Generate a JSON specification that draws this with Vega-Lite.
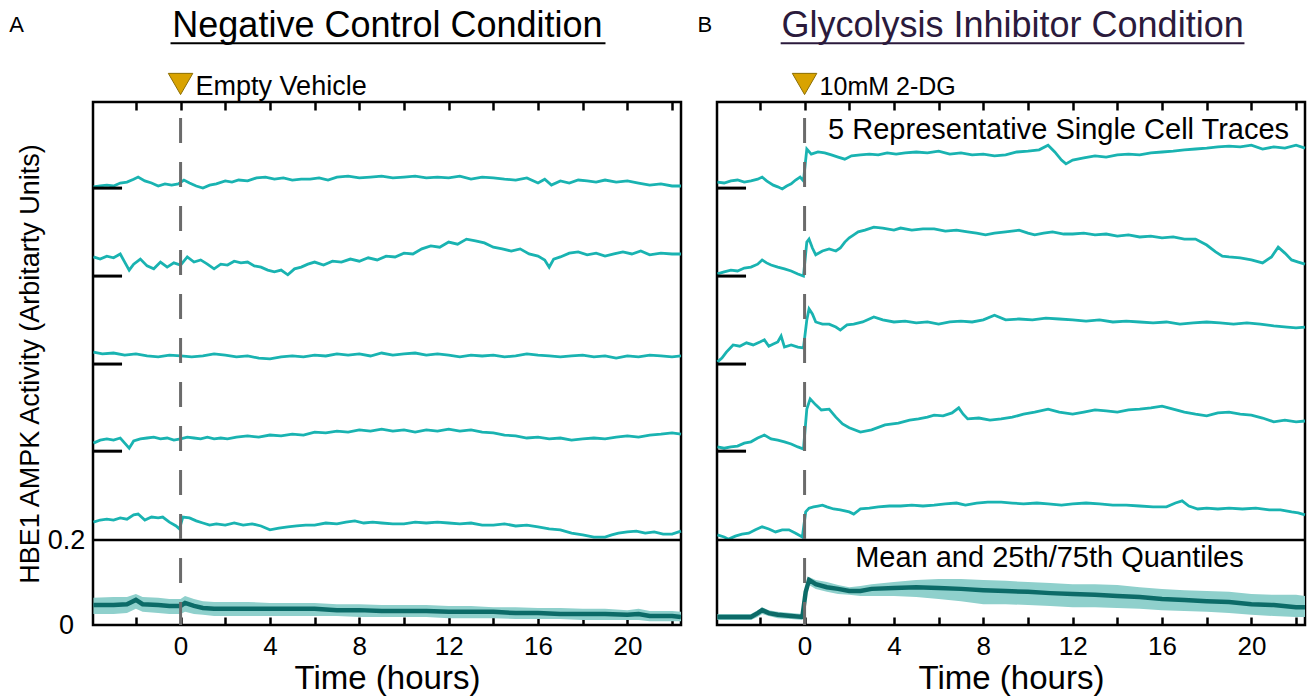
{
"$schema": "https://vega.github.io/schema/vega-lite/v6.json",
"padding": {"left": 8, "top": 6, "right": 0, "bottom": 0},
"config": {
  "font": "Liberation Sans",
  "view": {"stroke": "black", "strokeWidth": 2.5},
  "axis": {"labelFont": "Liberation Sans", "titleFont": "Liberation Sans", "labelColor": "black", "titleColor": "black", "tickColor": "black", "titleFontWeight": "normal", "grid": false, "zindex": 1},
  "text": {"color": "black", "font": "Liberation Sans"}
},
"datasets": {
  "bars": [{"b":0.409},{"b":0.614},{"b":0.821},{"b":1.028}],
  "A_mn": [
    {"t":-3.9,"m":0.047,"q3":0.064,"q1":0.026},{"t":-3.0,"m":0.047,"q3":0.066,"q1":0.026},{"t":-2.4,"m":0.049,"q3":0.066,"q1":0.028},{"t":-2.0,"m":0.059,"q3":0.073,"q1":0.038},{"t":-1.7,"m":0.049,"q3":0.066,"q1":0.031},{"t":-1.0,"m":0.047,"q3":0.064,"q1":0.028},{"t":-0.5,"m":0.045,"q3":0.061,"q1":0.026},{"t":0.0,"m":0.045,"q3":0.061,"q1":0.026},{"t":0.2,"m":0.052,"q3":0.068,"q1":0.031},{"t":0.6,"m":0.045,"q3":0.061,"q1":0.026},{"t":1.0,"m":0.040,"q3":0.056,"q1":0.024},{"t":1.5,"m":0.038,"q3":0.054,"q1":0.021},{"t":2.0,"m":0.038,"q3":0.054,"q1":0.021},{"t":3.0,"m":0.038,"q3":0.054,"q1":0.021},{"t":4.0,"m":0.038,"q3":0.052,"q1":0.021},{"t":5.0,"m":0.038,"q3":0.052,"q1":0.021},{"t":6.0,"m":0.038,"q3":0.052,"q1":0.021},{"t":7.0,"m":0.035,"q3":0.049,"q1":0.021},{"t":8.0,"m":0.035,"q3":0.049,"q1":0.019},{"t":9.0,"m":0.033,"q3":0.047,"q1":0.019},{"t":10.0,"m":0.033,"q3":0.047,"q1":0.019},{"t":11.0,"m":0.033,"q3":0.047,"q1":0.019},{"t":12.0,"m":0.031,"q3":0.045,"q1":0.016},{"t":13.0,"m":0.031,"q3":0.045,"q1":0.016},{"t":14.0,"m":0.031,"q3":0.042,"q1":0.016},{"t":15.0,"m":0.028,"q3":0.042,"q1":0.014},{"t":16.0,"m":0.028,"q3":0.040,"q1":0.014},{"t":17.0,"m":0.026,"q3":0.040,"q1":0.014},{"t":18.0,"m":0.026,"q3":0.038,"q1":0.012},{"t":19.0,"m":0.026,"q3":0.038,"q1":0.012},{"t":20.0,"m":0.024,"q3":0.035,"q1":0.012},{"t":20.5,"m":0.026,"q3":0.038,"q1":0.012},{"t":21.0,"m":0.021,"q3":0.033,"q1":0.009},{"t":22.0,"m":0.021,"q3":0.033,"q1":0.009},{"t":22.4,"m":0.019,"q3":0.031,"q1":0.009}
  ],
  "B_mn": [
    {"t":-3.9,"m":0.019,"q3":0.026,"q1":0.012},{"t":-3.0,"m":0.019,"q3":0.026,"q1":0.012},{"t":-2.4,"m":0.019,"q3":0.026,"q1":0.012},{"t":-2.1,"m":0.028,"q3":0.035,"q1":0.019},{"t":-1.9,"m":0.035,"q3":0.042,"q1":0.026},{"t":-1.6,"m":0.028,"q3":0.035,"q1":0.021},{"t":-1.2,"m":0.024,"q3":0.031,"q1":0.016},{"t":-0.6,"m":0.021,"q3":0.028,"q1":0.014},{"t":-0.1,"m":0.019,"q3":0.026,"q1":0.012},{"t":0.05,"m":0.078,"q3":0.087,"q1":0.064},{"t":0.2,"m":0.106,"q3":0.113,"q1":0.094},{"t":0.5,"m":0.096,"q3":0.106,"q1":0.085},{"t":1.0,"m":0.089,"q3":0.101,"q1":0.078},{"t":1.5,"m":0.085,"q3":0.094,"q1":0.073},{"t":2.0,"m":0.080,"q3":0.089,"q1":0.071},{"t":2.5,"m":0.080,"q3":0.092,"q1":0.068},{"t":3.0,"m":0.085,"q3":0.096,"q1":0.068},{"t":4.0,"m":0.087,"q3":0.101,"q1":0.068},{"t":5.0,"m":0.089,"q3":0.106,"q1":0.066},{"t":6.0,"m":0.087,"q3":0.108,"q1":0.061},{"t":7.0,"m":0.085,"q3":0.108,"q1":0.056},{"t":8.0,"m":0.082,"q3":0.106,"q1":0.049},{"t":9.0,"m":0.080,"q3":0.104,"q1":0.049},{"t":10.0,"m":0.078,"q3":0.101,"q1":0.047},{"t":11.0,"m":0.075,"q3":0.099,"q1":0.045},{"t":12.0,"m":0.073,"q3":0.096,"q1":0.042},{"t":13.0,"m":0.071,"q3":0.096,"q1":0.042},{"t":14.0,"m":0.068,"q3":0.094,"q1":0.040},{"t":15.0,"m":0.066,"q3":0.089,"q1":0.038},{"t":16.0,"m":0.061,"q3":0.085,"q1":0.035},{"t":17.0,"m":0.059,"q3":0.082,"q1":0.033},{"t":18.0,"m":0.056,"q3":0.080,"q1":0.031},{"t":19.0,"m":0.054,"q3":0.078,"q1":0.028},{"t":20.0,"m":0.049,"q3":0.073,"q1":0.024},{"t":21.0,"m":0.047,"q3":0.071,"q1":0.021},{"t":22.0,"m":0.042,"q3":0.071,"q1":0.019},{"t":22.4,"m":0.042,"q3":0.068,"q1":0.019}
  ],
  "A_tr": [
    {"k":5,"t":-3.9,"v":1.031},{"k":5,"t":-3.6,"v":1.033},{"k":5,"t":-3.3,"v":1.035},{"k":5,"t":-3.0,"v":1.033},{"k":5,"t":-2.7,"v":1.040},{"k":5,"t":-2.4,"v":1.042},{"k":5,"t":-2.1,"v":1.049},{"k":5,"t":-1.9,"v":1.054},{"k":5,"t":-1.6,"v":1.045},{"k":5,"t":-1.3,"v":1.040},{"k":5,"t":-1.0,"v":1.033},{"k":5,"t":-0.7,"v":1.038},{"k":5,"t":-0.4,"v":1.035},{"k":5,"t":-0.1,"v":1.038},{"k":5,"t":0.15,"v":1.047},{"k":5,"t":0.4,"v":1.040},{"k":5,"t":0.7,"v":1.033},{"k":5,"t":1.0,"v":1.028},{"k":5,"t":1.3,"v":1.035},{"k":5,"t":1.6,"v":1.038},{"k":5,"t":2.0,"v":1.045},{"k":5,"t":2.3,"v":1.042},{"k":5,"t":2.6,"v":1.047},{"k":5,"t":3.0,"v":1.045},{"k":5,"t":3.4,"v":1.052},{"k":5,"t":3.8,"v":1.054},{"k":5,"t":4.2,"v":1.049},{"k":5,"t":4.6,"v":1.052},{"k":5,"t":5.0,"v":1.047},{"k":5,"t":5.4,"v":1.049},{"k":5,"t":5.8,"v":1.049},{"k":5,"t":6.2,"v":1.052},{"k":5,"t":6.6,"v":1.047},{"k":5,"t":7.0,"v":1.054},{"k":5,"t":7.5,"v":1.056},{"k":5,"t":8.0,"v":1.052},{"k":5,"t":8.5,"v":1.054},{"k":5,"t":9.0,"v":1.056},{"k":5,"t":9.5,"v":1.052},{"k":5,"t":10.0,"v":1.054},{"k":5,"t":10.5,"v":1.056},{"k":5,"t":11.0,"v":1.052},{"k":5,"t":11.5,"v":1.054},{"k":5,"t":12.0,"v":1.052},{"k":5,"t":12.5,"v":1.056},{"k":5,"t":13.0,"v":1.049},{"k":5,"t":13.5,"v":1.054},{"k":5,"t":14.0,"v":1.052},{"k":5,"t":14.5,"v":1.049},{"k":5,"t":15.0,"v":1.047},{"k":5,"t":15.5,"v":1.052},{"k":5,"t":16.0,"v":1.040},{"k":5,"t":16.3,"v":1.049},{"k":5,"t":16.6,"v":1.035},{"k":5,"t":17.0,"v":1.045},{"k":5,"t":17.4,"v":1.040},{"k":5,"t":17.8,"v":1.047},{"k":5,"t":18.2,"v":1.045},{"k":5,"t":18.6,"v":1.042},{"k":5,"t":19.0,"v":1.047},{"k":5,"t":19.5,"v":1.042},{"k":5,"t":20.0,"v":1.045},{"k":5,"t":20.5,"v":1.040},{"k":5,"t":21.0,"v":1.035},{"k":5,"t":21.5,"v":1.038},{"k":5,"t":22.0,"v":1.033},{"k":5,"t":22.4,"v":1.033},
    {"k":4,"t":-3.9,"v":0.866},{"k":4,"t":-3.6,"v":0.861},{"k":4,"t":-3.3,"v":0.868},{"k":4,"t":-3.0,"v":0.864},{"k":4,"t":-2.7,"v":0.873},{"k":4,"t":-2.5,"v":0.854},{"k":4,"t":-2.3,"v":0.835},{"k":4,"t":-2.1,"v":0.849},{"k":4,"t":-1.8,"v":0.861},{"k":4,"t":-1.5,"v":0.845},{"k":4,"t":-1.2,"v":0.838},{"k":4,"t":-0.9,"v":0.854},{"k":4,"t":-0.6,"v":0.842},{"k":4,"t":-0.3,"v":0.852},{"k":4,"t":0.0,"v":0.847},{"k":4,"t":0.3,"v":0.866},{"k":4,"t":0.6,"v":0.854},{"k":4,"t":0.9,"v":0.859},{"k":4,"t":1.2,"v":0.849},{"k":4,"t":1.5,"v":0.838},{"k":4,"t":1.8,"v":0.849},{"k":4,"t":2.1,"v":0.847},{"k":4,"t":2.4,"v":0.856},{"k":4,"t":2.7,"v":0.852},{"k":4,"t":3.0,"v":0.854},{"k":4,"t":3.3,"v":0.845},{"k":4,"t":3.6,"v":0.842},{"k":4,"t":3.9,"v":0.835},{"k":4,"t":4.2,"v":0.831},{"k":4,"t":4.5,"v":0.835},{"k":4,"t":4.8,"v":0.824},{"k":4,"t":5.1,"v":0.838},{"k":4,"t":5.4,"v":0.842},{"k":4,"t":5.7,"v":0.849},{"k":4,"t":6.0,"v":0.854},{"k":4,"t":6.4,"v":0.847},{"k":4,"t":6.8,"v":0.856},{"k":4,"t":7.2,"v":0.854},{"k":4,"t":7.6,"v":0.861},{"k":4,"t":8.0,"v":0.856},{"k":4,"t":8.4,"v":0.864},{"k":4,"t":8.8,"v":0.859},{"k":4,"t":9.2,"v":0.868},{"k":4,"t":9.6,"v":0.866},{"k":4,"t":10.0,"v":0.875},{"k":4,"t":10.4,"v":0.873},{"k":4,"t":10.8,"v":0.885},{"k":4,"t":11.2,"v":0.892},{"k":4,"t":11.6,"v":0.889},{"k":4,"t":12.0,"v":0.901},{"k":4,"t":12.4,"v":0.896},{"k":4,"t":12.8,"v":0.908},{"k":4,"t":13.2,"v":0.904},{"k":4,"t":13.6,"v":0.899},{"k":4,"t":14.0,"v":0.889},{"k":4,"t":14.4,"v":0.885},{"k":4,"t":14.8,"v":0.880},{"k":4,"t":15.2,"v":0.885},{"k":4,"t":15.6,"v":0.873},{"k":4,"t":16.0,"v":0.868},{"k":4,"t":16.3,"v":0.859},{"k":4,"t":16.5,"v":0.842},{"k":4,"t":16.7,"v":0.861},{"k":4,"t":17.0,"v":0.866},{"k":4,"t":17.4,"v":0.875},{"k":4,"t":17.8,"v":0.878},{"k":4,"t":18.2,"v":0.871},{"k":4,"t":18.6,"v":0.875},{"k":4,"t":19.0,"v":0.868},{"k":4,"t":19.4,"v":0.873},{"k":4,"t":19.8,"v":0.878},{"k":4,"t":20.2,"v":0.873},{"k":4,"t":20.6,"v":0.880},{"k":4,"t":21.0,"v":0.871},{"k":4,"t":21.5,"v":0.875},{"k":4,"t":22.0,"v":0.873},{"k":4,"t":22.4,"v":0.873},
    {"k":3,"t":-3.9,"v":0.642},{"k":3,"t":-3.5,"v":0.638},{"k":3,"t":-3.0,"v":0.640},{"k":3,"t":-2.5,"v":0.635},{"k":3,"t":-2.0,"v":0.638},{"k":3,"t":-1.5,"v":0.633},{"k":3,"t":-1.0,"v":0.631},{"k":3,"t":-0.5,"v":0.635},{"k":3,"t":0.0,"v":0.633},{"k":3,"t":0.5,"v":0.631},{"k":3,"t":1.0,"v":0.633},{"k":3,"t":1.5,"v":0.638},{"k":3,"t":2.0,"v":0.635},{"k":3,"t":2.5,"v":0.631},{"k":3,"t":3.0,"v":0.633},{"k":3,"t":3.5,"v":0.628},{"k":3,"t":4.0,"v":0.626},{"k":3,"t":4.5,"v":0.631},{"k":3,"t":5.0,"v":0.633},{"k":3,"t":5.5,"v":0.631},{"k":3,"t":6.0,"v":0.635},{"k":3,"t":6.5,"v":0.633},{"k":3,"t":7.0,"v":0.638},{"k":3,"t":7.5,"v":0.635},{"k":3,"t":8.0,"v":0.638},{"k":3,"t":8.5,"v":0.633},{"k":3,"t":9.0,"v":0.640},{"k":3,"t":9.5,"v":0.635},{"k":3,"t":10.0,"v":0.638},{"k":3,"t":10.5,"v":0.640},{"k":3,"t":11.0,"v":0.635},{"k":3,"t":11.5,"v":0.638},{"k":3,"t":12.0,"v":0.635},{"k":3,"t":12.5,"v":0.631},{"k":3,"t":13.0,"v":0.635},{"k":3,"t":13.5,"v":0.633},{"k":3,"t":14.0,"v":0.635},{"k":3,"t":14.5,"v":0.631},{"k":3,"t":15.0,"v":0.633},{"k":3,"t":15.5,"v":0.638},{"k":3,"t":16.0,"v":0.635},{"k":3,"t":16.5,"v":0.633},{"k":3,"t":17.0,"v":0.631},{"k":3,"t":17.5,"v":0.633},{"k":3,"t":18.0,"v":0.635},{"k":3,"t":18.5,"v":0.631},{"k":3,"t":19.0,"v":0.633},{"k":3,"t":19.5,"v":0.628},{"k":3,"t":20.0,"v":0.633},{"k":3,"t":20.5,"v":0.631},{"k":3,"t":21.0,"v":0.635},{"k":3,"t":21.5,"v":0.633},{"k":3,"t":22.0,"v":0.631},{"k":3,"t":22.4,"v":0.633},
    {"k":2,"t":-3.9,"v":0.428},{"k":2,"t":-3.6,"v":0.435},{"k":2,"t":-3.3,"v":0.438},{"k":2,"t":-3.0,"v":0.435},{"k":2,"t":-2.7,"v":0.440},{"k":2,"t":-2.5,"v":0.428},{"k":2,"t":-2.3,"v":0.416},{"k":2,"t":-2.1,"v":0.433},{"k":2,"t":-1.8,"v":0.438},{"k":2,"t":-1.5,"v":0.440},{"k":2,"t":-1.2,"v":0.442},{"k":2,"t":-0.9,"v":0.438},{"k":2,"t":-0.6,"v":0.440},{"k":2,"t":-0.3,"v":0.435},{"k":2,"t":0.0,"v":0.438},{"k":2,"t":0.3,"v":0.442},{"k":2,"t":0.6,"v":0.440},{"k":2,"t":0.9,"v":0.438},{"k":2,"t":1.2,"v":0.442},{"k":2,"t":1.5,"v":0.438},{"k":2,"t":1.8,"v":0.440},{"k":2,"t":2.1,"v":0.438},{"k":2,"t":2.5,"v":0.442},{"k":2,"t":3.0,"v":0.445},{"k":2,"t":3.5,"v":0.442},{"k":2,"t":4.0,"v":0.447},{"k":2,"t":4.5,"v":0.445},{"k":2,"t":5.0,"v":0.449},{"k":2,"t":5.5,"v":0.447},{"k":2,"t":6.0,"v":0.454},{"k":2,"t":6.5,"v":0.452},{"k":2,"t":7.0,"v":0.456},{"k":2,"t":7.5,"v":0.454},{"k":2,"t":8.0,"v":0.459},{"k":2,"t":8.5,"v":0.456},{"k":2,"t":9.0,"v":0.461},{"k":2,"t":9.5,"v":0.456},{"k":2,"t":10.0,"v":0.459},{"k":2,"t":10.5,"v":0.454},{"k":2,"t":11.0,"v":0.459},{"k":2,"t":11.5,"v":0.456},{"k":2,"t":12.0,"v":0.461},{"k":2,"t":12.5,"v":0.456},{"k":2,"t":13.0,"v":0.459},{"k":2,"t":13.5,"v":0.454},{"k":2,"t":14.0,"v":0.452},{"k":2,"t":14.5,"v":0.447},{"k":2,"t":15.0,"v":0.445},{"k":2,"t":15.5,"v":0.440},{"k":2,"t":16.0,"v":0.442},{"k":2,"t":16.5,"v":0.438},{"k":2,"t":17.0,"v":0.440},{"k":2,"t":17.5,"v":0.435},{"k":2,"t":18.0,"v":0.438},{"k":2,"t":18.5,"v":0.440},{"k":2,"t":19.0,"v":0.438},{"k":2,"t":19.5,"v":0.442},{"k":2,"t":20.0,"v":0.445},{"k":2,"t":20.5,"v":0.442},{"k":2,"t":21.0,"v":0.447},{"k":2,"t":21.5,"v":0.449},{"k":2,"t":22.0,"v":0.452},{"k":2,"t":22.4,"v":0.449},
    {"k":1,"t":-3.9,"v":0.242},{"k":1,"t":-3.6,"v":0.247},{"k":1,"t":-3.3,"v":0.249},{"k":1,"t":-3.0,"v":0.247},{"k":1,"t":-2.7,"v":0.252},{"k":1,"t":-2.4,"v":0.249},{"k":1,"t":-2.1,"v":0.259},{"k":1,"t":-1.9,"v":0.261},{"k":1,"t":-1.6,"v":0.247},{"k":1,"t":-1.3,"v":0.254},{"k":1,"t":-1.0,"v":0.252},{"k":1,"t":-0.8,"v":0.254},{"k":1,"t":-0.5,"v":0.242},{"k":1,"t":-0.2,"v":0.233},{"k":1,"t":-0.05,"v":0.226},{"k":1,"t":0.1,"v":0.254},{"k":1,"t":0.4,"v":0.252},{"k":1,"t":0.7,"v":0.245},{"k":1,"t":1.0,"v":0.240},{"k":1,"t":1.3,"v":0.235},{"k":1,"t":1.6,"v":0.238},{"k":1,"t":2.0,"v":0.235},{"k":1,"t":2.4,"v":0.240},{"k":1,"t":2.8,"v":0.235},{"k":1,"t":3.2,"v":0.238},{"k":1,"t":3.6,"v":0.233},{"k":1,"t":4.0,"v":0.224},{"k":1,"t":4.4,"v":0.228},{"k":1,"t":4.8,"v":0.231},{"k":1,"t":5.2,"v":0.233},{"k":1,"t":5.6,"v":0.235},{"k":1,"t":6.0,"v":0.235},{"k":1,"t":6.5,"v":0.240},{"k":1,"t":7.0,"v":0.238},{"k":1,"t":7.4,"v":0.242},{"k":1,"t":7.8,"v":0.245},{"k":1,"t":8.2,"v":0.240},{"k":1,"t":8.6,"v":0.242},{"k":1,"t":9.0,"v":0.240},{"k":1,"t":9.5,"v":0.238},{"k":1,"t":10.0,"v":0.238},{"k":1,"t":10.5,"v":0.242},{"k":1,"t":11.0,"v":0.240},{"k":1,"t":11.5,"v":0.242},{"k":1,"t":12.0,"v":0.240},{"k":1,"t":12.5,"v":0.238},{"k":1,"t":13.0,"v":0.240},{"k":1,"t":13.5,"v":0.235},{"k":1,"t":14.0,"v":0.235},{"k":1,"t":14.5,"v":0.238},{"k":1,"t":15.0,"v":0.233},{"k":1,"t":15.5,"v":0.235},{"k":1,"t":16.0,"v":0.231},{"k":1,"t":16.5,"v":0.226},{"k":1,"t":17.0,"v":0.224},{"k":1,"t":17.5,"v":0.216},{"k":1,"t":18.0,"v":0.212},{"k":1,"t":18.5,"v":0.207},{"k":1,"t":19.0,"v":0.207},{"k":1,"t":19.3,"v":0.212},{"k":1,"t":19.6,"v":0.216},{"k":1,"t":20.0,"v":0.219},{"k":1,"t":20.4,"v":0.221},{"k":1,"t":20.8,"v":0.216},{"k":1,"t":21.2,"v":0.219},{"k":1,"t":21.6,"v":0.214},{"k":1,"t":22.0,"v":0.214},{"k":1,"t":22.4,"v":0.221}
  ],
  "B_tr": [
    {"k":5,"t":-3.9,"v":1.042},{"k":5,"t":-3.6,"v":1.040},{"k":5,"t":-3.3,"v":1.045},{"k":5,"t":-3.0,"v":1.047},{"k":5,"t":-2.7,"v":1.042},{"k":5,"t":-2.4,"v":1.045},{"k":5,"t":-2.1,"v":1.049},{"k":5,"t":-1.9,"v":1.054},{"k":5,"t":-1.7,"v":1.045},{"k":5,"t":-1.4,"v":1.035},{"k":5,"t":-1.2,"v":1.031},{"k":5,"t":-1.0,"v":1.026},{"k":5,"t":-0.8,"v":1.033},{"k":5,"t":-0.6,"v":1.038},{"k":5,"t":-0.4,"v":1.047},{"k":5,"t":-0.2,"v":1.054},{"k":5,"t":-0.05,"v":1.045},{"k":5,"t":0.1,"v":1.120},{"k":5,"t":0.3,"v":1.108},{"k":5,"t":0.6,"v":1.113},{"k":5,"t":0.9,"v":1.111},{"k":5,"t":1.2,"v":1.106},{"k":5,"t":1.5,"v":1.101},{"k":5,"t":1.8,"v":1.096},{"k":5,"t":2.1,"v":1.104},{"k":5,"t":2.5,"v":1.106},{"k":5,"t":2.9,"v":1.108},{"k":5,"t":3.3,"v":1.106},{"k":5,"t":3.7,"v":1.111},{"k":5,"t":4.1,"v":1.108},{"k":5,"t":4.5,"v":1.111},{"k":5,"t":5.0,"v":1.113},{"k":5,"t":5.5,"v":1.111},{"k":5,"t":6.0,"v":1.115},{"k":5,"t":6.5,"v":1.108},{"k":5,"t":7.0,"v":1.111},{"k":5,"t":7.5,"v":1.106},{"k":5,"t":8.0,"v":1.108},{"k":5,"t":8.5,"v":1.104},{"k":5,"t":9.0,"v":1.106},{"k":5,"t":9.5,"v":1.113},{"k":5,"t":10.0,"v":1.115},{"k":5,"t":10.5,"v":1.118},{"k":5,"t":10.9,"v":1.129},{"k":5,"t":11.2,"v":1.113},{"k":5,"t":11.5,"v":1.094},{"k":5,"t":11.7,"v":1.085},{"k":5,"t":12.0,"v":1.094},{"k":5,"t":12.5,"v":1.099},{"k":5,"t":13.0,"v":1.104},{"k":5,"t":13.5,"v":1.101},{"k":5,"t":14.0,"v":1.106},{"k":5,"t":14.5,"v":1.108},{"k":5,"t":15.0,"v":1.106},{"k":5,"t":15.5,"v":1.111},{"k":5,"t":16.0,"v":1.113},{"k":5,"t":16.5,"v":1.115},{"k":5,"t":17.0,"v":1.118},{"k":5,"t":17.5,"v":1.120},{"k":5,"t":18.0,"v":1.122},{"k":5,"t":18.5,"v":1.125},{"k":5,"t":19.0,"v":1.127},{"k":5,"t":19.5,"v":1.125},{"k":5,"t":20.0,"v":1.129},{"k":5,"t":20.5,"v":1.120},{"k":5,"t":21.0,"v":1.125},{"k":5,"t":21.5,"v":1.122},{"k":5,"t":22.0,"v":1.129},{"k":5,"t":22.4,"v":1.122},
    {"k":4,"t":-3.9,"v":0.826},{"k":4,"t":-3.6,"v":0.831},{"k":4,"t":-3.3,"v":0.835},{"k":4,"t":-3.0,"v":0.833},{"k":4,"t":-2.7,"v":0.840},{"k":4,"t":-2.4,"v":0.842},{"k":4,"t":-2.1,"v":0.849},{"k":4,"t":-1.9,"v":0.859},{"k":4,"t":-1.7,"v":0.852},{"k":4,"t":-1.5,"v":0.847},{"k":4,"t":-1.2,"v":0.842},{"k":4,"t":-0.9,"v":0.838},{"k":4,"t":-0.6,"v":0.833},{"k":4,"t":-0.3,"v":0.826},{"k":4,"t":-0.05,"v":0.821},{"k":4,"t":0.1,"v":0.901},{"k":4,"t":0.2,"v":0.908},{"k":4,"t":0.35,"v":0.887},{"k":4,"t":0.5,"v":0.871},{"k":4,"t":0.8,"v":0.880},{"k":4,"t":1.1,"v":0.885},{"k":4,"t":1.4,"v":0.880},{"k":4,"t":1.6,"v":0.887},{"k":4,"t":1.8,"v":0.901},{"k":4,"t":2.0,"v":0.911},{"k":4,"t":2.2,"v":0.918},{"k":4,"t":2.4,"v":0.925},{"k":4,"t":2.7,"v":0.929},{"k":4,"t":3.1,"v":0.936},{"k":4,"t":3.5,"v":0.934},{"k":4,"t":4.0,"v":0.929},{"k":4,"t":4.3,"v":0.934},{"k":4,"t":4.8,"v":0.929},{"k":4,"t":5.3,"v":0.932},{"k":4,"t":5.8,"v":0.932},{"k":4,"t":6.3,"v":0.927},{"k":4,"t":6.8,"v":0.929},{"k":4,"t":7.3,"v":0.925},{"k":4,"t":7.7,"v":0.922},{"k":4,"t":8.1,"v":0.918},{"k":4,"t":8.5,"v":0.922},{"k":4,"t":9.0,"v":0.925},{"k":4,"t":9.6,"v":0.929},{"k":4,"t":10.0,"v":0.922},{"k":4,"t":10.3,"v":0.918},{"k":4,"t":10.7,"v":0.922},{"k":4,"t":11.1,"v":0.925},{"k":4,"t":11.6,"v":0.920},{"k":4,"t":12.0,"v":0.920},{"k":4,"t":12.5,"v":0.922},{"k":4,"t":13.0,"v":0.918},{"k":4,"t":13.5,"v":0.920},{"k":4,"t":14.0,"v":0.915},{"k":4,"t":14.5,"v":0.918},{"k":4,"t":15.0,"v":0.913},{"k":4,"t":15.5,"v":0.915},{"k":4,"t":16.0,"v":0.911},{"k":4,"t":16.5,"v":0.913},{"k":4,"t":17.0,"v":0.908},{"k":4,"t":17.5,"v":0.908},{"k":4,"t":18.0,"v":0.894},{"k":4,"t":18.4,"v":0.878},{"k":4,"t":18.7,"v":0.868},{"k":4,"t":19.0,"v":0.866},{"k":4,"t":19.5,"v":0.864},{"k":4,"t":20.0,"v":0.859},{"k":4,"t":20.5,"v":0.852},{"k":4,"t":20.9,"v":0.866},{"k":4,"t":21.2,"v":0.889},{"k":4,"t":21.5,"v":0.875},{"k":4,"t":21.8,"v":0.859},{"k":4,"t":22.1,"v":0.854},{"k":4,"t":22.4,"v":0.849},
    {"k":3,"t":-3.9,"v":0.619},{"k":3,"t":-3.7,"v":0.628},{"k":3,"t":-3.5,"v":0.642},{"k":3,"t":-3.2,"v":0.659},{"k":3,"t":-2.9,"v":0.656},{"k":3,"t":-2.6,"v":0.664},{"k":3,"t":-2.3,"v":0.659},{"k":3,"t":-2.0,"v":0.666},{"k":3,"t":-1.8,"v":0.671},{"k":3,"t":-1.6,"v":0.656},{"k":3,"t":-1.4,"v":0.661},{"k":3,"t":-1.2,"v":0.666},{"k":3,"t":-1.05,"v":0.680},{"k":3,"t":-0.9,"v":0.654},{"k":3,"t":-0.6,"v":0.659},{"k":3,"t":-0.3,"v":0.654},{"k":3,"t":-0.05,"v":0.652},{"k":3,"t":0.1,"v":0.718},{"k":3,"t":0.2,"v":0.744},{"k":3,"t":0.35,"v":0.732},{"k":3,"t":0.5,"v":0.713},{"k":3,"t":0.8,"v":0.708},{"k":3,"t":1.1,"v":0.708},{"k":3,"t":1.4,"v":0.701},{"k":3,"t":1.6,"v":0.694},{"k":3,"t":1.9,"v":0.706},{"k":3,"t":2.2,"v":0.708},{"k":3,"t":2.6,"v":0.713},{"k":3,"t":3.1,"v":0.725},{"k":3,"t":3.5,"v":0.718},{"k":3,"t":4.0,"v":0.713},{"k":3,"t":4.5,"v":0.715},{"k":3,"t":5.0,"v":0.711},{"k":3,"t":5.5,"v":0.713},{"k":3,"t":6.0,"v":0.708},{"k":3,"t":6.5,"v":0.713},{"k":3,"t":7.0,"v":0.715},{"k":3,"t":7.5,"v":0.713},{"k":3,"t":8.0,"v":0.718},{"k":3,"t":8.5,"v":0.729},{"k":3,"t":9.0,"v":0.718},{"k":3,"t":9.6,"v":0.720},{"k":3,"t":10.2,"v":0.718},{"k":3,"t":10.8,"v":0.722},{"k":3,"t":11.4,"v":0.720},{"k":3,"t":12.0,"v":0.718},{"k":3,"t":12.6,"v":0.715},{"k":3,"t":13.2,"v":0.718},{"k":3,"t":13.8,"v":0.713},{"k":3,"t":14.4,"v":0.715},{"k":3,"t":15.0,"v":0.713},{"k":3,"t":15.6,"v":0.711},{"k":3,"t":16.2,"v":0.713},{"k":3,"t":16.8,"v":0.708},{"k":3,"t":17.4,"v":0.711},{"k":3,"t":18.0,"v":0.713},{"k":3,"t":18.6,"v":0.711},{"k":3,"t":19.2,"v":0.708},{"k":3,"t":19.8,"v":0.711},{"k":3,"t":20.4,"v":0.708},{"k":3,"t":21.0,"v":0.704},{"k":3,"t":21.6,"v":0.701},{"k":3,"t":22.0,"v":0.699},{"k":3,"t":22.4,"v":0.701},
    {"k":2,"t":-3.9,"v":0.419},{"k":2,"t":-3.6,"v":0.416},{"k":2,"t":-3.3,"v":0.419},{"k":2,"t":-3.0,"v":0.421},{"k":2,"t":-2.7,"v":0.428},{"k":2,"t":-2.4,"v":0.431},{"k":2,"t":-2.1,"v":0.440},{"k":2,"t":-1.8,"v":0.447},{"k":2,"t":-1.5,"v":0.438},{"k":2,"t":-1.2,"v":0.435},{"k":2,"t":-0.9,"v":0.431},{"k":2,"t":-0.6,"v":0.426},{"k":2,"t":-0.3,"v":0.419},{"k":2,"t":-0.05,"v":0.414},{"k":2,"t":0.1,"v":0.508},{"k":2,"t":0.25,"v":0.532},{"k":2,"t":0.5,"v":0.518},{"k":2,"t":0.75,"v":0.506},{"k":2,"t":1.1,"v":0.508},{"k":2,"t":1.4,"v":0.489},{"k":2,"t":1.7,"v":0.473},{"k":2,"t":2.0,"v":0.464},{"k":2,"t":2.5,"v":0.454},{"k":2,"t":3.0,"v":0.459},{"k":2,"t":3.6,"v":0.471},{"k":2,"t":4.2,"v":0.475},{"k":2,"t":4.7,"v":0.482},{"k":2,"t":5.1,"v":0.485},{"k":2,"t":5.5,"v":0.489},{"k":2,"t":5.8,"v":0.494},{"k":2,"t":6.2,"v":0.492},{"k":2,"t":6.6,"v":0.499},{"k":2,"t":6.9,"v":0.511},{"k":2,"t":7.1,"v":0.496},{"k":2,"t":7.3,"v":0.485},{"k":2,"t":7.8,"v":0.487},{"k":2,"t":8.3,"v":0.482},{"k":2,"t":8.8,"v":0.485},{"k":2,"t":9.3,"v":0.489},{"k":2,"t":9.8,"v":0.496},{"k":2,"t":10.3,"v":0.501},{"k":2,"t":10.9,"v":0.508},{"k":2,"t":11.4,"v":0.501},{"k":2,"t":12.0,"v":0.496},{"k":2,"t":12.5,"v":0.501},{"k":2,"t":13.0,"v":0.506},{"k":2,"t":13.5,"v":0.504},{"k":2,"t":14.0,"v":0.501},{"k":2,"t":14.5,"v":0.506},{"k":2,"t":15.0,"v":0.508},{"k":2,"t":15.5,"v":0.511},{"k":2,"t":16.0,"v":0.515},{"k":2,"t":16.5,"v":0.508},{"k":2,"t":17.0,"v":0.501},{"k":2,"t":17.5,"v":0.496},{"k":2,"t":18.0,"v":0.492},{"k":2,"t":18.5,"v":0.499},{"k":2,"t":19.0,"v":0.501},{"k":2,"t":19.5,"v":0.496},{"k":2,"t":20.0,"v":0.494},{"k":2,"t":20.5,"v":0.487},{"k":2,"t":21.0,"v":0.478},{"k":2,"t":21.5,"v":0.482},{"k":2,"t":22.0,"v":0.478},{"k":2,"t":22.4,"v":0.480},
    {"k":1,"t":-3.9,"v":0.212},{"k":1,"t":-3.6,"v":0.207},{"k":1,"t":-3.4,"v":0.202},{"k":1,"t":-3.1,"v":0.209},{"k":1,"t":-2.8,"v":0.214},{"k":1,"t":-2.5,"v":0.216},{"k":1,"t":-2.2,"v":0.224},{"k":1,"t":-1.9,"v":0.231},{"k":1,"t":-1.6,"v":0.226},{"k":1,"t":-1.3,"v":0.219},{"k":1,"t":-1.0,"v":0.224},{"k":1,"t":-0.7,"v":0.224},{"k":1,"t":-0.4,"v":0.216},{"k":1,"t":-0.1,"v":0.207},{"k":1,"t":0.05,"v":0.266},{"k":1,"t":0.2,"v":0.275},{"k":1,"t":0.4,"v":0.278},{"k":1,"t":0.6,"v":0.280},{"k":1,"t":0.8,"v":0.282},{"k":1,"t":1.0,"v":0.278},{"k":1,"t":1.3,"v":0.273},{"k":1,"t":1.6,"v":0.271},{"k":1,"t":2.0,"v":0.266},{"k":1,"t":2.2,"v":0.261},{"k":1,"t":2.5,"v":0.273},{"k":1,"t":2.9,"v":0.275},{"k":1,"t":3.3,"v":0.278},{"k":1,"t":3.8,"v":0.280},{"k":1,"t":4.3,"v":0.280},{"k":1,"t":4.8,"v":0.282},{"k":1,"t":5.3,"v":0.280},{"k":1,"t":5.8,"v":0.282},{"k":1,"t":6.3,"v":0.285},{"k":1,"t":6.8,"v":0.287},{"k":1,"t":7.2,"v":0.282},{"k":1,"t":7.7,"v":0.287},{"k":1,"t":8.2,"v":0.289},{"k":1,"t":8.8,"v":0.289},{"k":1,"t":9.3,"v":0.287},{"k":1,"t":9.8,"v":0.285},{"k":1,"t":10.4,"v":0.287},{"k":1,"t":10.9,"v":0.285},{"k":1,"t":11.5,"v":0.282},{"k":1,"t":12.0,"v":0.285},{"k":1,"t":12.6,"v":0.287},{"k":1,"t":13.2,"v":0.285},{"k":1,"t":13.8,"v":0.282},{"k":1,"t":14.4,"v":0.282},{"k":1,"t":15.0,"v":0.280},{"k":1,"t":15.6,"v":0.278},{"k":1,"t":16.2,"v":0.278},{"k":1,"t":16.6,"v":0.287},{"k":1,"t":16.9,"v":0.292},{"k":1,"t":17.2,"v":0.280},{"k":1,"t":17.6,"v":0.273},{"k":1,"t":18.0,"v":0.275},{"k":1,"t":18.5,"v":0.273},{"k":1,"t":19.0,"v":0.275},{"k":1,"t":19.6,"v":0.273},{"k":1,"t":20.2,"v":0.275},{"k":1,"t":20.8,"v":0.271},{"k":1,"t":21.3,"v":0.271},{"k":1,"t":21.8,"v":0.266},{"k":1,"t":22.1,"v":0.264},{"k":1,"t":22.4,"v":0.259}
  ]
},
"hconcat": [
  {
    "width": 588, "height": 523,
    "resolve": {"axis": {"x": "independent"}},
    "layer": [
      {"data": {"name": "A_mn"}, "mark": {"type": "area", "color": "#8fd0cc", "opacity": 1},
       "encoding": {
         "x": {"field": "t", "type": "quantitative", "scale": {"domain": [-3.92, 22.4], "nice": false, "zero": false},
               "axis": {"orient": "bottom", "values": [-2,0,2,4,6,8,10,12,14,16,18,20,22], "labelExpr": "datum.value >= 0 && datum.value % 4 == 0 ? datum.label : ''", "labelOverlap": false, "labelBound": false, "labelFlush": false, "domain": false, "ticks": true, "tickSize": -8, "tickWidth": 2.5, "tickColor": "black", "labelFontSize": 26, "labelPadding": 16, "title": "Time (hours)", "titleFontSize": 33, "titlePadding": 3}},
         "y": {"field": "q1", "type": "quantitative", "scale": {"domain": [0, 1.2306], "nice": false, "zero": false},
               "axis": {"values": [0, 0.2], "ticks": false, "domain": false, "labelAlign": "center", "labelPadding": 27, "labelFontSize": 27, "labelExpr": "datum.value == 0 ? '0' : '0.2'", "title": "HBE1 AMPK Activity (Arbitarty Units)", "titleFontSize": 27, "titlePadding": 3}},
         "y2": {"field": "q3"}
       }},
      {"data": {"name": "A_mn"}, "mark": {"type": "line", "color": "#0c6b68", "strokeWidth": 4.5},
       "encoding": {
         "x": {"field": "t", "type": "quantitative", "axis": {"orient": "top", "values": [-2,0,2,4,6,8,10,12,14,16,18,20,22], "labels": false, "domain": false, "ticks": true, "tickSize": -8, "tickWidth": 2.5, "tickColor": "black", "title": null}},
         "y": {"field": "m", "type": "quantitative"}
       }},
      {"data": {"name": "A_tr"}, "mark": {"type": "line", "color": "#19b3b1", "strokeWidth": 2.8},
       "encoding": {
         "x": {"field": "t", "type": "quantitative", "axis": null},
         "y": {"field": "v", "type": "quantitative"},
         "detail": {"field": "k", "type": "nominal"}
       }},
      {"data": {"values": [{}]}, "mark": {"type": "rule", "color": "black", "strokeWidth": 2.5},
       "encoding": {"y": {"datum": 0.2, "type": "quantitative"}}},
      {"data": {"values": [{}]}, "mark": {"type": "rule", "color": "#6b6b6b", "strokeWidth": 3, "strokeDash": [25, 19], "strokeDashOffset": 28},
       "encoding": {"x": {"datum": 0, "type": "quantitative", "axis": null}}},
      {"data": {"name": "bars"}, "mark": {"type": "rule", "color": "black", "strokeWidth": 3},
       "encoding": {"x": {"datum": -3.92, "type": "quantitative", "axis": null}, "x2": {"datum": -2.62}, "y": {"field": "b", "type": "quantitative"}}},
      {"data": {"values": [{}]}, "mark": {"type": "point", "shape": "triangle-down", "size": 600, "filled": true, "fill": "#d9a300", "stroke": "#8c6d00", "strokeWidth": 1, "opacity": 1},
       "encoding": {"x": {"datum": 0, "type": "quantitative", "axis": null}, "y": {"datum": 1.273, "type": "quantitative"}}},
      {"data": {"values": [{}]}, "mark": {"type": "text", "text": "Empty Vehicle", "align": "left", "baseline": "alphabetic", "fontSize": 27, "dx": 15},
       "encoding": {"x": {"datum": 0, "type": "quantitative", "axis": null}, "y": {"datum": 1.247, "type": "quantitative"}}},
      {"data": {"values": [{}]}, "mark": {"type": "text", "text": "Negative Control Condition", "align": "center", "baseline": "alphabetic", "fontSize": 36},
       "encoding": {"x": {"datum": 9.26, "type": "quantitative", "axis": null}, "y": {"datum": 1.384, "type": "quantitative"}}},
      {"data": {"values": [{}]}, "mark": {"type": "rule", "color": "black", "strokeWidth": 2},
       "encoding": {"x": {"datum": -0.45, "type": "quantitative", "axis": null}, "x2": {"datum": 19.02}, "y": {"datum": 1.369, "type": "quantitative"}}},
      {"data": {"values": [{}]}, "mark": {"type": "text", "text": "A", "align": "center", "baseline": "alphabetic", "fontSize": 22},
       "encoding": {"x": {"datum": -7.34, "type": "quantitative", "axis": null}, "y": {"datum": 1.395, "type": "quantitative"}}}
    ]
  },
  {
    "width": 588, "height": 523,
    "resolve": {"axis": {"x": "independent"}},
    "layer": [
      {"data": {"name": "B_mn"}, "mark": {"type": "area", "color": "#8fd0cc", "opacity": 1},
       "encoding": {
         "x": {"field": "t", "type": "quantitative", "scale": {"domain": [-3.92, 22.4], "nice": false, "zero": false},
               "axis": {"orient": "bottom", "values": [-2,0,2,4,6,8,10,12,14,16,18,20,22], "labelExpr": "datum.value >= 0 && datum.value % 4 == 0 ? datum.label : ''", "labelOverlap": false, "labelBound": false, "labelFlush": false, "domain": false, "ticks": true, "tickSize": -8, "tickWidth": 2.5, "tickColor": "black", "labelFontSize": 26, "labelPadding": 16, "title": "Time (hours)", "titleFontSize": 33, "titlePadding": 3}},
         "y": {"field": "q1", "type": "quantitative", "scale": {"domain": [0, 1.2306], "nice": false, "zero": false}, "axis": null},
         "y2": {"field": "q3"}
       }},
      {"data": {"name": "B_mn"}, "mark": {"type": "line", "color": "#0c6b68", "strokeWidth": 4.5},
       "encoding": {
         "x": {"field": "t", "type": "quantitative", "axis": {"orient": "top", "values": [-2,0,2,4,6,8,10,12,14,16,18,20,22], "labels": false, "domain": false, "ticks": true, "tickSize": -8, "tickWidth": 2.5, "tickColor": "black", "title": null}},
         "y": {"field": "m", "type": "quantitative", "axis": null}
       }},
      {"data": {"name": "B_tr"}, "mark": {"type": "line", "color": "#19b3b1", "strokeWidth": 2.8},
       "encoding": {
         "x": {"field": "t", "type": "quantitative", "axis": null},
         "y": {"field": "v", "type": "quantitative", "axis": null},
         "detail": {"field": "k", "type": "nominal"}
       }},
      {"data": {"values": [{}]}, "mark": {"type": "rule", "color": "black", "strokeWidth": 2.5},
       "encoding": {"y": {"datum": 0.2, "type": "quantitative", "axis": null}}},
      {"data": {"values": [{}]}, "mark": {"type": "rule", "color": "#6b6b6b", "strokeWidth": 3, "strokeDash": [25, 19], "strokeDashOffset": 28},
       "encoding": {"x": {"datum": 0, "type": "quantitative", "axis": null}}},
      {"data": {"name": "bars"}, "mark": {"type": "rule", "color": "black", "strokeWidth": 3},
       "encoding": {"x": {"datum": -3.92, "type": "quantitative", "axis": null}, "x2": {"datum": -2.62}, "y": {"field": "b", "type": "quantitative", "axis": null}}},
      {"data": {"values": [{}]}, "mark": {"type": "point", "shape": "triangle-down", "size": 600, "filled": true, "fill": "#d9a300", "stroke": "#8c6d00", "strokeWidth": 1, "opacity": 1},
       "encoding": {"x": {"datum": 0, "type": "quantitative", "axis": null}, "y": {"datum": 1.273, "type": "quantitative", "axis": null}}},
      {"data": {"values": [{}]}, "mark": {"type": "text", "text": "10mM 2-DG", "align": "left", "baseline": "alphabetic", "fontSize": 25, "dx": 15},
       "encoding": {"x": {"datum": 0, "type": "quantitative", "axis": null}, "y": {"datum": 1.247, "type": "quantitative", "axis": null}}},
      {"data": {"values": [{}]}, "mark": {"type": "text", "text": "5 Representative Single Cell Traces", "align": "center", "baseline": "alphabetic", "fontSize": 29},
       "encoding": {"x": {"datum": 11.37, "type": "quantitative", "axis": null}, "y": {"datum": 1.144, "type": "quantitative", "axis": null}}},
      {"data": {"values": [{}]}, "mark": {"type": "text", "text": "Mean and 25th/75th Quantiles", "align": "center", "baseline": "alphabetic", "fontSize": 29},
       "encoding": {"x": {"datum": 10.96, "type": "quantitative", "axis": null}, "y": {"datum": 0.136, "type": "quantitative", "axis": null}}},
      {"data": {"values": [{}]}, "mark": {"type": "text", "text": "Glycolysis Inhibitor Condition", "align": "center", "baseline": "alphabetic", "fontSize": 36, "color": "#2b1a3c"},
       "encoding": {"x": {"datum": 9.31, "type": "quantitative", "axis": null}, "y": {"datum": 1.384, "type": "quantitative", "axis": null}}},
      {"data": {"values": [{}]}, "mark": {"type": "rule", "color": "#2b1a3c", "strokeWidth": 2},
       "encoding": {"x": {"datum": -1.07, "type": "quantitative", "axis": null}, "x2": {"datum": 19.69}, "y": {"datum": 1.369, "type": "quantitative", "axis": null}}},
      {"data": {"values": [{}]}, "mark": {"type": "text", "text": "B", "align": "center", "baseline": "alphabetic", "fontSize": 22},
       "encoding": {"x": {"datum": -4.46, "type": "quantitative", "axis": null}, "y": {"datum": 1.395, "type": "quantitative", "axis": null}}}
    ]
  }
],
"spacing": 4
}
